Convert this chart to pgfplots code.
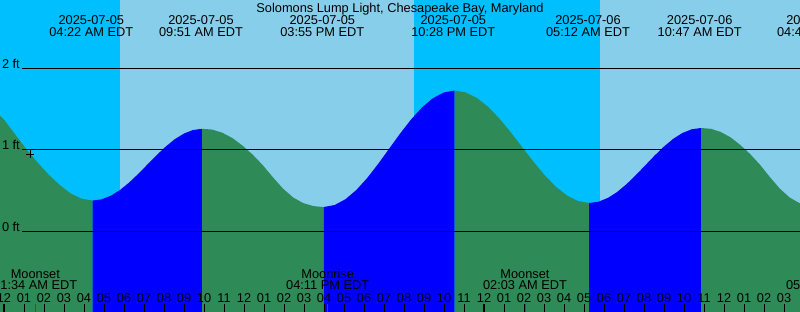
\documentclass[border=0pt]{standalone}
\usepackage{fontspec}
\setmainfont{Liberation Sans}
\usepackage{pgfplots}
\pgfplotsset{compat=1.18}
\definecolor{nightc}{RGB}{0,191,255}
\definecolor{dayc}{RGB}{135,206,235}
\definecolor{risec}{RGB}{0,0,255}
\definecolor{fallc}{RGB}{46,139,87}
\begin{document}
\begin{tikzpicture}[x=1pt,y=1pt]
\useasboundingbox (0,0) rectangle (800,312);
\clip (0,0) rectangle (800,312);
\begin{axis}[at={(0,0)}, anchor=south west, scale only axis,
  width=800pt, height=312pt,
  xmin=-0.2, xmax=39.8, ymin=-0.9877, ymax=2.8405,
  axis line style={draw=none}, ytick=\empty,
  xtick={0,1,...,39}, xticklabels={}, xtick pos=bottom, xtick align=inside,
  major tick length=8pt, tick style={black, line width=1pt},
  extra x ticks={0,24}, extra x tick labels={},
  extra x tick style={tick style={black, line width=2.4pt}},
  axis on top, clip=true]
% sky: night / day
\addplot[fill=nightc, draw=none] coordinates {(-1,-1.2) (-1,3) (5.8,3) (5.8,-1.2)} -- cycle;
\addplot[fill=dayc, draw=none] coordinates {(5.8,-1.2) (5.8,3) (20.5,3) (20.5,-1.2)} -- cycle;
\addplot[fill=nightc, draw=none] coordinates {(20.5,-1.2) (20.5,3) (29.8,3) (29.8,-1.2)} -- cycle;
\addplot[fill=dayc, draw=none] coordinates {(29.8,-1.2) (29.8,3) (41,3) (41,-1.2)} -- cycle;
% tide: falling (green) / rising (blue)
\addplot[fill=fallc, draw=none] coordinates {(-2.2,-1.2) (-2.2,1.700) (-1.6475,1.6775) (-1.095,1.6116) (-0.5425,1.5067) (0.010,1.370) (0.5625,1.19) (1.115,1.01) (1.6675,0.85) (2.220,0.700) (2.7725,0.5733) (3.325,0.4684) (3.8775,0.4025) (4.43,0.380) (4.43,-1.2)} -- cycle;
\addplot[fill=risec, draw=none] coordinates {(4.43,-1.2) (4.43,0.380) (4.8858,0.3950) (5.3417,0.4390) (5.7975,0.5089) (6.2533,0.600) (6.7092,0.7061) (7.165,0.820) (7.6208,0.9339) (8.0767,1.040) (8.5325,1.1311) (8.9883,1.2010) (9.4442,1.2450) (9.90,1.260) (9.90,-1.2)} -- cycle;
\addplot[fill=fallc, draw=none] coordinates {(9.90,-1.2) (9.90,1.260) (10.4067,1.2504) (10.9133,1.212) (11.42,1.1467) (11.9267,1.0536) (12.4333,0.9432) (12.94,0.8136) (13.4467,0.6648) (13.9533,0.5256) (14.46,0.4171) (14.9667,0.348) (15.4733,0.3115) (15.98,0.300) (15.98,-1.2)} -- cycle;
\addplot[fill=risec, draw=none] coordinates {(15.98,-1.2) (15.98,0.300) (16.5258,0.3244) (17.0717,0.3958) (17.6175,0.5094) (18.1633,0.6575) (18.7092,0.8299) (19.255,1.015) (19.8008,1.2001) (20.3467,1.3725) (20.8925,1.5206) (21.4383,1.6342) (21.9842,1.7056) (22.53,1.730) (22.53,-1.2)} -- cycle;
\addplot[fill=fallc, draw=none] coordinates {(22.53,-1.2) (22.53,1.730) (23.0908,1.7065) (23.6517,1.6376) (24.2125,1.5279) (24.7733,1.385) (25.3342,1.2186) (25.895,1.040) (26.4558,0.8614) (27.0167,0.695) (27.5775,0.5521) (28.1383,0.4424) (28.6992,0.3735) (29.26,0.350) (29.26,-1.2)} -- cycle;
\addplot[fill=risec, draw=none] coordinates {(29.26,-1.2) (29.26,0.350) (29.7258,0.3657) (30.1917,0.4116) (30.6575,0.4847) (31.1233,0.580) (31.5892,0.6909) (32.055,0.810) (32.5208,0.9291) (32.9867,1.040) (33.4525,1.1353) (33.9183,1.2084) (34.3842,1.2543) (34.85,1.270) (34.85,-1.2)} -- cycle;
\addplot[fill=fallc, draw=none] coordinates {(34.85,-1.2) (34.85,1.270) (35.3417,1.2603) (35.8333,1.2215) (36.325,1.1555) (36.8167,1.0614) (37.3083,0.9499) (37.80,0.819) (38.2917,0.6686) (38.7833,0.528) (39.275,0.4183) (39.7667,0.3485) (40.2583,0.3116) (40.75,0.300) (40.75,-1.2)} -- cycle;
% level lines
\addplot[black, line width=1pt] coordinates {(0.88,2) (40,2)};
\addplot[black, line width=1pt] coordinates {(0.88,1) (40,1)};
\addplot[black, line width=1pt] coordinates {(0.88,0) (40,0)};
% moon event ticks
\addplot[red, line width=1pt] coordinates {(1.567,-1.0) (1.567,-0.8896)};
\addplot[red, line width=1pt] coordinates {(16.183,-1.0) (16.183,-0.8896)};
\addplot[red, line width=1pt] coordinates {(26.05,-1.0) (26.05,-0.8896)};
% current-time marker
\addplot[only marks, mark=+, mark size=4pt, black, line width=0.9pt] coordinates {(1.3,0.947)};
\end{axis}
\begin{scope}[every node/.style={font=\fontsize{12.8}{14}\selectfont, inner sep=0pt, anchor=base, text=black}]
\node at (400,299.7) {Solomons Lump Light, Chesapeake Bay, Maryland};
% tide events
\foreach \x/\d/\t in {91.3/2025-07-05/04:22 AM EDT, 201/2025-07-05/09:51 AM EDT, 322.3/2025-07-05/03:55 PM EDT, 453.3/2025-07-05/10:28 PM EDT, 588/2025-07-06/05:12 AM EDT, 699.7/2025-07-06/10:47 AM EDT, 819/2025-07-06/04:45 PM EDT}{
  \node at (\x,287.7) {\d};
  \node at (\x,275.5) {\t};
}
% moon events
\foreach \x/\d/\t in {35.3/Moonset/01:34 AM EDT, 327.7/Moonrise/04:11 PM EDT, 525/Moonset/02:03 AM EDT, 828/Moonrise/05:12 PM EDT}{
  \node at (\x,33.3) {\d};
  \node at (\x,22) {\t};
}
% level labels
\node[anchor=base east] at (20,243.5) {2 ft};
\node[anchor=base east] at (20,162) {1 ft};
\node[anchor=base east] at (20,80.5) {0 ft};
% hour labels
\foreach \i/\t in {0/12,1/01,2/02,3/03,4/04,5/05,6/06,7/07,8/08,9/09,10/10,11/11,12/12,13/01,14/02,15/03,16/04,17/05,18/06,19/07,20/08,21/09,22/10,23/11,24/12,25/01,26/02,27/03,28/04,29/05,30/06,31/07,32/08,33/09,34/10,35/11,36/12,37/01,38/02,39/03}{
  \node at ({4+20*\i},9.7) {\t};
}
\end{scope}
\end{tikzpicture}
\end{document}
